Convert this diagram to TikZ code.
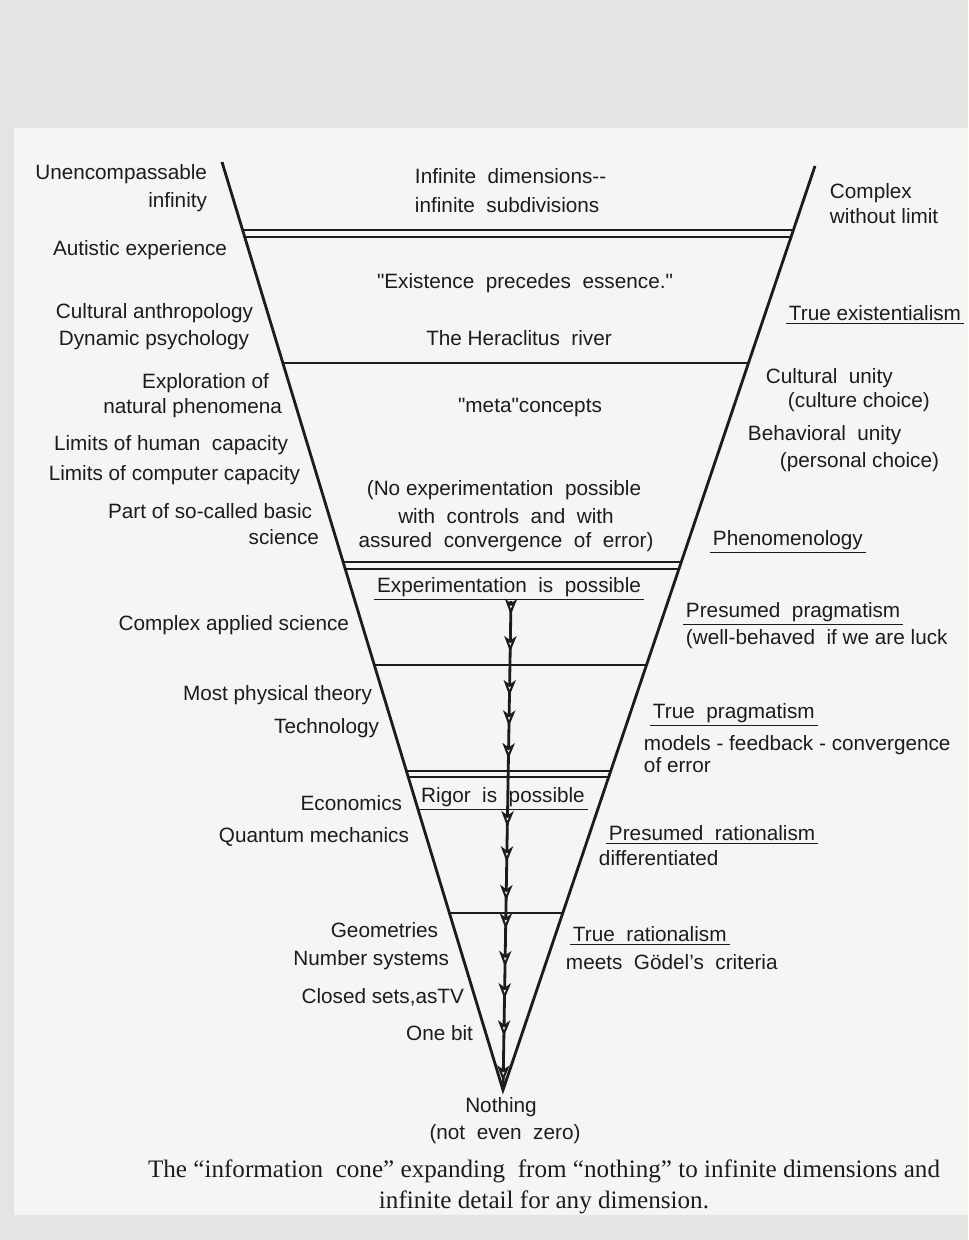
\documentclass[tikz,border=0pt]{standalone}
\usepackage{fontspec}
\setmainfont{Liberation Sans}
\newfontfamily\captionfont{Liberation Serif}
\usepackage{tikz}
\usetikzlibrary{arrows.meta,calc}
\definecolor{PaperGray}{HTML}{E4E4E2}
\definecolor{PaperWhite}{HTML}{F5F5F3}
\definecolor{InkBlack}{HTML}{1C1C1C}

\tikzset{
  conetext/.style={font=\fontsize{11.8}{14}\selectfont, text=InkBlack, inner sep=1.5pt},
  leftlabel/.style={conetext, anchor=east},
  rightlabel/.style={conetext, anchor=west},
  midlabel/.style={conetext},
  coneedge/.style={draw=InkBlack, line width=1.6pt},
  band/.style={draw=InkBlack, line width=1.1pt},
  uline/.style={draw=InkBlack, line width=0.9pt},
  flowhead/.style={draw=InkBlack, line width=1.2pt,
    -{Stealth[length=9pt,width=7pt,inset=2.5pt,open,fill=white]}}
}

\begin{document}
\begin{tikzpicture}[x=0.02cm, y=-0.02cm]
   % paper
   \fill[PaperGray] (0,0) rectangle (968,1240);
   \fill[PaperWhite] (14,128) rectangle (968,1215);
   \useasboundingbox (0,0) rectangle (968,1240);

   % the cone
   \coordinate (top left) at (222,162);
   \coordinate (top right) at (815,166);
   \coordinate (apex) at (503,1090);
   \draw[coneedge] (top left) -- (apex) -- (top right);

   \foreach \y/\name in {230/a,237/b,363/c,562/d,569/e,665/f,771/g,777/h,913/i} {
    \coordinate (L\name) at ($(top left)!{(\y-162)/928}!(apex)$);
    \coordinate (R\name) at ($(top right)!{(\y-166)/924}!(apex)$);
    \draw[band] (L\name) -- (R\name);
   }

   % flow down to nothing
   \coordinate (stem top) at (511,601);
   \draw[draw=InkBlack, line width=1.6pt] (stem top) -- (apex);
   \foreach \t in {0.028,0.104,0.194,0.256,0.323,0.462,0.534,0.613,0.671,0.748,0.814,0.890,0.982} {
    \draw[flowhead] ($(stem top)!{\t-0.02}!(apex)$) -- ($(stem top)!\t!(apex)$);
   }

   % inside the cone
   \node[midlabel, anchor=west] (infdim) at (412,176) {Infinite\ \ dimensions-{}-};
   \node[midlabel, anchor=west] (infsub) at (412,205) {infinite\ \ subdivisions};
   \node[midlabel] (exist) at (525,283) {\textquotedbl Existence\ \ precedes\ \ essence.\textquotedbl};
   \node[midlabel] (heracl) at (519,338) {The Heraclitus\ \ river};
   \node[midlabel] (meta) at (530,408) {\textquotedbl meta\textquotedbl concepts};
   \node[midlabel] (noexp) at (504,490) {(No experimentation\ \ possible};
   \node[midlabel] (controls) at (506,516) {with\ \ controls\ \ and\ \ with};
   \node[midlabel] (assured) at (506,542) {assured\ \ convergence\ \ of\ \ error)};
   \node[midlabel] (experi) at (509,587) {Experimentation\ \ is\ \ possible};
   \node[midlabel] (rigor) at (503,797) {Rigor\ \ is\ \ possible};
   \node[midlabel] (nothing) at (501,1107) {Nothing};
   \node[midlabel] (notzero) at (505,1134) {(not\ \ even\ \ zero)};

   % left side
   \foreach \x/\y/\name/\txt in {
     210/174/unenc/Unencompassable,
     210/202/infty/infinity,
     230/250/autist/Autistic experience,
     256/313/anthro/Cultural anthropology,
     252/340/dynpsy/Dynamic psychology,
     272/383/explor/Exploration of,
     285/408/natphen/natural phenomena,
     291/445/humcap/Limits of human\ \ capacity,
     303/475/compcap/Limits of computer capacity,
     315/511/basic/Part of so-called basic,
     322/537/science/science,
     352/625/applied/Complex applied science,
     375/695/phystheo/Most physical theory,
     382/728/techno/Technology,
     405/803/econ/Economics,
     412/837/quantum/Quantum mechanics,
     441/930/geom/Geometries,
     452/960/numsys/Number systems,
     467/997/closed/{Closed sets,asTV},
     476/1033/onebit/One bit} {
    \node[leftlabel] (\name) at (\x,\y) {\txt};
   }

   % right side
   \foreach \x/\y/\name/\txt in {
     827/193/complex/Complex,
     827/216/nolimit/without limit,
     786/313/trueexist/True existentialism,
     763/378/culunity/Cultural\ \ unity,
     785/402/culchoice/(culture choice),
     745/435/behunity/Behavioral\ \ unity,
     777/462/perchoice/(personal choice),
     710/540/phenom/Phenomenology,
     683/612/prespragm/Presumed\ \ pragmatism,
     683/639/wellbeh/(well-behaved\ \ if we are luck,
     650/713/truepragm/True\ \ pragmatism,
     641/745/models/models - feedback - convergence,
     641/765/oferror/of error,
     606/833/presrat/Presumed\ \ rationalism,
     596/858/differ/differentiated,
     570/934/truerat/True\ \ rationalism,
     563/962/goedel/meets\ \ Gödel's\ \ criteria} {
    \node[rightlabel] (\name) at (\x,\y) {\txt};
   }

   \foreach \n in {trueexist,phenom,prespragm,truepragm,presrat,truerat,experi,rigor}
    \draw[uline] (\n.south west) -- (\n.south east);

   % caption
   \node[font=\captionfont\fontsize{14.3}{18}\selectfont, align=center, text=InkBlack] (caption) at (544,1187)
    {The “information\ \ cone” expanding\ \ from “nothing” to infinite dimensions and\\ infinite detail for any dimension.};
  \end{tikzpicture}
\end{document}
